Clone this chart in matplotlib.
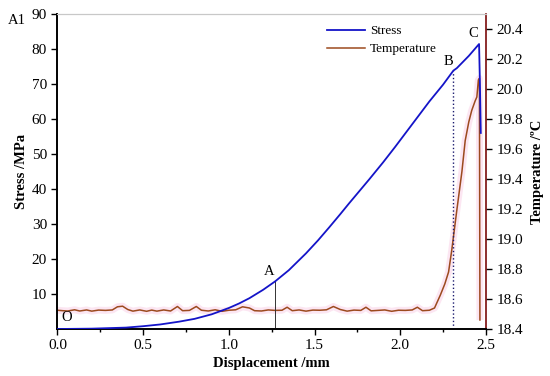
import matplotlib.pyplot as plt
from matplotlib.ticker import MultipleLocator

plt.rcParams['font.family'] = ['Liberation Serif', 'DejaVu Serif']
plt.rcParams['font.size'] = 11

# stress vs displacement
disp = [0, 0.2, 0.4, 0.5, 0.6, 0.71, 0.8, 0.9, 1.0, 1.06, 1.12, 1.2, 1.27,
        1.35, 1.45, 1.52, 1.585, 1.65, 1.7, 1.76, 1.82, 1.9, 1.97, 2.07,
        2.17, 2.25, 2.31, 2.33, 2.4, 2.46, 2.465, 2.47]
stress = [0, 0.1, 0.4, 0.8, 1.3, 2.1, 2.9, 4.2, 6.0, 7.3, 8.8, 11.2, 13.6,
          16.8, 21.6, 25.3, 29.0, 32.8, 35.8, 39.3, 42.8, 47.6, 52.0, 58.5,
          65.0, 69.8, 73.8, 74.5, 78.0, 81.4, 70.0, 56.0]

# temperature vs displacement
disp_t = [0.00, 0.03, 0.06, 0.10, 0.13, 0.17, 0.20, 0.24, 0.28, 0.32, 0.35,
          0.38, 0.41, 0.44, 0.48, 0.52, 0.55, 0.58, 0.62, 0.66, 0.70, 0.73,
          0.77, 0.81, 0.84, 0.88, 0.92, 0.96, 1.00, 1.04, 1.08, 1.12, 1.15,
          1.19, 1.23, 1.27, 1.31, 1.34, 1.37, 1.41, 1.45, 1.49, 1.53, 1.57,
          1.61, 1.65, 1.69, 1.73, 1.77, 1.80, 1.83, 1.87, 1.91, 1.95, 1.99,
          2.03, 2.07, 2.10, 2.13, 2.17, 2.20, 2.234, 2.26, 2.282, 2.30, 2.33,
          2.36, 2.379, 2.40, 2.417, 2.437, 2.447, 2.456, 2.462, 2.465]
temp = [18.525, 18.522, 18.520, 18.528, 18.520, 18.527, 18.519, 18.526,
        18.524, 18.527, 18.548, 18.552, 18.530, 18.519, 18.527, 18.518,
        18.526, 18.519, 18.527, 18.520, 18.550, 18.522, 18.524, 18.550,
        18.525, 18.520, 18.528, 18.518, 18.525, 18.528, 18.548, 18.540,
        18.522, 18.520, 18.527, 18.524, 18.525, 18.545, 18.522, 18.527,
        18.519, 18.526, 18.525, 18.528, 18.550, 18.530, 18.519, 18.526,
        18.524, 18.545, 18.521, 18.524, 18.527, 18.518, 18.525, 18.524,
        18.527, 18.545, 18.522, 18.525, 18.540, 18.626, 18.70, 18.78,
        18.92, 19.19, 19.45, 19.655, 19.78, 19.856, 19.92, 19.946, 20.06,
        20.07, 18.46]

# marked points
pt_a = (1.268, 13.6)
pt_b = (2.31, 73.8)

blue = '#1414c8'
brown = '#9c4a1e'
pink = '#fce6f2'

fig = plt.figure(figsize=(5.5, 3.76), dpi=100)
ax = fig.add_axes([0.1045, 0.125, 0.779, 0.838])
ax2 = ax.twinx()

ln1, = ax.plot(disp, stress, color=blue, lw=1.3, label='Stress', zorder=3)
ax2.plot(disp_t, temp, color=pink, lw=5, solid_capstyle='butt', zorder=1)
ln2, = ax2.plot(disp_t, temp, color=brown, lw=1.1, label='Temperature', zorder=2)
ax.set_zorder(ax2.get_zorder() + 1)
ax.patch.set_visible(False)

ax.plot([pt_a[0], pt_a[0]], [0, pt_a[1]], color='#333333', lw=0.7)
ax.plot([pt_b[0], pt_b[0]], [0, pt_b[1]], color='#1a1a6e', lw=1.0, ls=':')

ax.text(0.055, 3.4, 'O', ha='center', va='center', fontsize=10.5)
ax.text(1.238, 16.3, 'A', ha='center', va='center', fontsize=10.5)
ax.text(2.282, 76.4, 'B', ha='center', va='center', fontsize=10.5)
ax.text(2.424, 84.3, 'C', ha='center', va='center', fontsize=10.5)
fig.text(0.015, 0.945, 'A1', fontsize=10.5, ha='left', va='center')

ax.set_xlim(0, 2.5)
ax.set_ylim(0, 90)
ax.set_yticks([10, 20, 30, 40, 50, 60, 70, 80, 90])
ax.xaxis.set_major_locator(MultipleLocator(0.5))
ax.xaxis.set_minor_locator(MultipleLocator(0.25))
ax.tick_params(axis='both', which='major', direction='out', length=4, width=1)
ax.tick_params(axis='x', which='minor', direction='out', length=2.5, width=1)
ax.set_xlabel('Displacement /mm', fontweight='bold', fontsize=10.5, labelpad=3)
ax.set_ylabel('Stress /MPa', fontweight='bold', fontsize=10.5, labelpad=3)

ax2.set_ylim(18.4, 20.5)
ax2.set_yticks([18.4, 18.6, 18.8, 19.0, 19.2, 19.4, 19.6, 19.8, 20.0, 20.2, 20.4])
ax2.set_yticklabels(['%.1f' % v for v in ax2.get_yticks()])
ax2.tick_params(axis='y', direction='out', length=4, width=1)
ax2.set_ylabel('Temperature /ºC', fontweight='bold', fontsize=10.5, labelpad=6)

for a in (ax, ax2):
    a.spines['top'].set_color('#c8c8c8')
    a.spines['left'].set_linewidth(1.2)
    a.spines['bottom'].set_linewidth(1.2)
ax2.spines['right'].set_color('#7a0a0a')
ax2.spines['right'].set_linewidth(1.2)
ax.spines['right'].set_visible(False)

ax.legend([ln1, ln2], ['Stress', 'Temperature'], loc='upper left',
          bbox_to_anchor=(0.61, 0.99), frameon=False, handlelength=2.9,
          handletextpad=0.4, fontsize=9.5, labelspacing=0.45,
          borderaxespad=0.2)

fig.savefig('out.png', dpi=100)
